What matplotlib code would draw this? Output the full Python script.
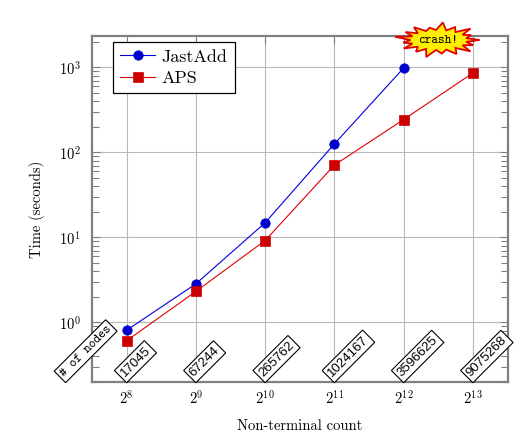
import matplotlib
matplotlib.use("Agg")
import matplotlib.pyplot as plt
import matplotlib.transforms as mtransforms
from matplotlib.patches import Polygon
from matplotlib.ticker import LogLocator, FixedLocator, FuncFormatter, NullFormatter
import numpy as np

# ---- data ----
exponents = [8, 9, 10, 11, 12, 13]
jastadd_exp = [8, 9, 10, 11, 12]
jastadd_time = [0.81, 2.85, 14.9, 126, 985]
aps_exp = [8, 9, 10, 11, 12, 13]
aps_time = [0.61, 2.32, 9.2, 71, 244, 860]
node_counts = ["17045", "67244", "265762", "1024167", "3596625", "9075268"]
series_names = ["JastAdd", "APS"]
crash_label = "crash!"
nodes_caption = "# of nodes"

plt.rcParams["mathtext.fontset"] = "cm"
plt.rcParams["axes.formatter.use_mathtext"] = True

fig = plt.figure(figsize=(5.30, 4.43), dpi=100)
ax = fig.add_axes([92 / 530, 1 - 382 / 443, (507.5 - 92) / 530, (382 - 36) / 443])

ax.set_xscale("log", base=2)
ax.set_yscale("log", base=10)

jx = [2.0 ** e for e in jastadd_exp]
ax_x = [2.0 ** e for e in aps_exp]

ax.plot(jx, jastadd_time, color="#0000e0", lw=0.8, marker="o", ms=6.8,
        mfc="#0000cc", mec="#0000cc", mew=0.5, label=series_names[0], zorder=4, clip_on=False)
ax.plot(ax_x, aps_time, color="#e00000", lw=0.8, marker="s", ms=6.5,
        mfc="#cc0000", mec="#cc0000", mew=0.5, label=series_names[1], zorder=4, clip_on=False)

ax.set_xlim(2 ** 7.5, 2 ** 13.5)
ax.set_ylim(10 ** -0.70, 10 ** 3.37)

# ticks
ax.xaxis.set_major_locator(FixedLocator([2.0 ** e for e in exponents]))
ax.xaxis.set_minor_locator(FixedLocator([]))
ax.xaxis.set_major_formatter(FuncFormatter(lambda v, p: r"$2^{%d}$" % round(np.log2(v))))
ax.yaxis.set_major_locator(LogLocator(base=10, numticks=10))
ax.yaxis.set_minor_locator(LogLocator(base=10, subs=np.arange(2, 10), numticks=20))
ax.yaxis.set_minor_formatter(NullFormatter())
ax.yaxis.set_major_formatter(FuncFormatter(lambda v, p: r"$10^{%d}$" % round(np.log10(v))))

frame_col = "#808080"
ax.tick_params(which="both", direction="in", top=True, right=True, color=frame_col, width=0.8)
ax.tick_params(which="major", length=6, labelsize=10.5)
ax.tick_params(axis="x", which="major", pad=5)
ax.tick_params(axis="y", which="major", pad=8)
ax.tick_params(which="minor", length=5)
for s in ax.spines.values():
    s.set_color(frame_col)
    s.set_linewidth(1.6)

ax.grid(True, which="major", color="#b8b8b8", lw=0.8)
ax.set_axisbelow(True)

ax.set_xlabel("Non-terminal count", family="cmr10", fontsize=10.5, labelpad=9)
ax.set_ylabel("Time (seconds)", family="cmr10", fontsize=10.5, labelpad=10)

leg = ax.legend(loc="upper left", bbox_to_anchor=(0.0505, 0.983), borderaxespad=0,
                prop={"family": "cmr10", "size": 13}, fancybox=False, framealpha=1,
                edgecolor="black", handlelength=1.95, handletextpad=0.35,
                borderpad=0.4, labelspacing=0.32)
leg.get_frame().set_linewidth(0.9)

# node count labels
ybot = 10 ** -0.70
box = dict(boxstyle="square,pad=0.2", fc="white", ec="black", lw=0.8)
for e, lab in zip(exponents, node_counts):
    ax.annotate(lab, xy=(2.0 ** e, ybot), xytext=(0, 3), textcoords="offset pixels",
                rotation=45, rotation_mode="anchor", ha="left", va="bottom",
                family="Liberation Sans", fontsize=9.5, bbox=box, zorder=6,
                annotation_clip=False)
ax.annotate(nodes_caption, xy=(2.0 ** exponents[0], ybot), xytext=(-61, 3),
            textcoords="offset pixels", rotation=45, rotation_mode="anchor",
            ha="left", va="bottom", family="cmtt10", fontsize=9.3,
            bbox=box, zorder=6, annotation_clip=False)

# crash starburst near JastAdd's last point
cx_off, cy_off = 35, 28
n_spikes = 17
outer = [1.0, 0.85, 1.05, 0.9, 1.1, 0.8, 1.0, 0.95, 1.08, 0.88, 1.0, 0.92, 1.1, 0.85, 0.98, 1.05, 0.9]
verts = []
for i in range(n_spikes):
    a0 = 2 * np.pi * i / n_spikes
    a1 = 2 * np.pi * (i + 0.5) / n_spikes
    verts.append((cx_off + 41 * outer[i] * np.cos(a0), cy_off + 16 * outer[i] * np.sin(a0)))
    verts.append((cx_off + 28 * np.cos(a1), cy_off + 10 * np.sin(a1)))
tr = mtransforms.ScaledTranslation(2.0 ** jastadd_exp[-1], jastadd_time[-1], ax.transData)
burst = Polygon(verts, closed=True, fc="#ffee00", ec="#e00000", lw=1.3,
                transform=tr, clip_on=False, zorder=7)
ax.add_patch(burst)
ax.annotate(crash_label, xy=(2.0 ** jastadd_exp[-1], jastadd_time[-1]), xytext=(cx_off, cy_off),
            textcoords="offset pixels", ha="center", va="center", family="cmtt10",
            fontsize=9.2, zorder=8, annotation_clip=False)

fig.savefig("out.png", dpi=100)
